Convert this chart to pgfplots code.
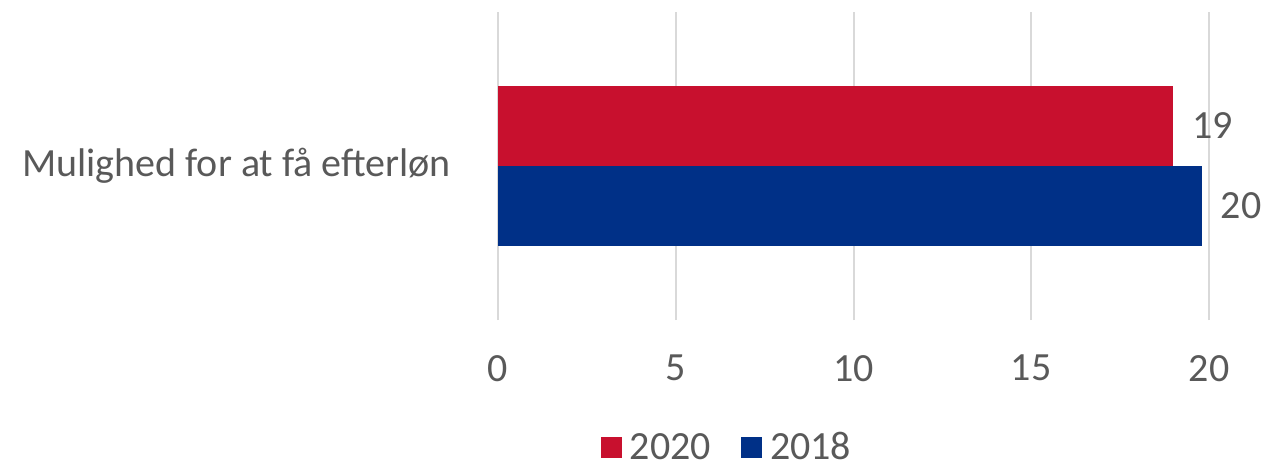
\documentclass[border=0pt]{standalone}
\usepackage{pgfplots}
\pgfplotsset{compat=1.18}
\usepackage{fontspec}
\setmainfont{Carlito}
\definecolor{cred}{HTML}{C8102E}
\definecolor{cblue}{HTML}{003087}
\definecolor{ctext}{HTML}{595959}
\definecolor{cgrid}{HTML}{D9D9D9}
\begin{document}
\begin{tikzpicture}
\useasboundingbox (-249pt,-72.5pt) rectangle (384.5pt,160pt);
\begin{axis}[
  at={(0,0)}, anchor=south west,
  scale only axis, width=355.5pt, height=154pt,
  xbar, bar width=0.52,
  xmin=0, xmax=20, ymin=-1, ymax=1,
  xtick={0,5,10,15,20},
  ytick={0}, yticklabels={Mulighed for at få efterløn},
  axis line style={draw=none},
  major tick length=0pt,
  xmajorgrids, ymajorgrids=false,
  grid style={cgrid, line width=1pt},
  font=\fontsize{20}{24}\selectfont,
  tick label style={ctext},
  /pgf/number format/assume math mode=true,
  xticklabel style={yshift=-14pt},
  yticklabel style={xshift=-20pt},
  nodes near coords,
  every node near coord/.append style={ctext, anchor=west, xshift=6pt, font=\fontsize{20}{24}\selectfont},
  legend style={at={(0.3207,-0.415)}, anchor=center, draw=none, legend columns=2,
    font=\fontsize{20}{24}\selectfont, text=ctext, inner sep=0pt,
    nodes={inner sep=0pt},
    /tikz/every odd column/.append style={column sep=4pt},
    /tikz/every even column/.append style={column sep=15pt}},
  legend image code/.code={\fill[#1] (0pt,-5.25pt) rectangle (10.5pt,5.25pt);},
]
\addplot[fill=cred, draw=none, bar shift=0.26, nodes near coords={19}] coordinates {(18.99,0)};
\addplot[fill=cblue, draw=none, bar shift=-0.26, nodes near coords={20}] coordinates {(19.8,0)};
\legend{2020,2018}
\end{axis}
\end{tikzpicture}
\end{document}
